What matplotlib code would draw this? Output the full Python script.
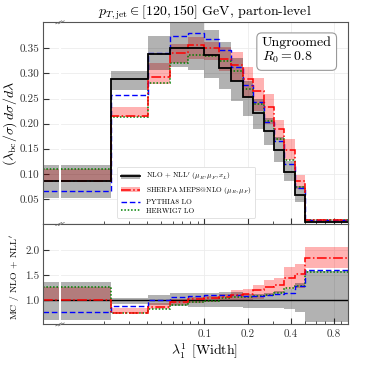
import numpy as np
import matplotlib
matplotlib.use("Agg")
import matplotlib.pyplot as plt
from matplotlib.patches import Patch
from matplotlib.lines import Line2D
from matplotlib.ticker import FixedLocator, NullFormatter, FixedFormatter

plt.rcParams['font.family'] = ['cmr10', 'DejaVu Serif']
plt.rcParams['mathtext.fontset'] = 'cm'
plt.rcParams['axes.unicode_minus'] = False
plt.rcParams['axes.formatter.use_mathtext'] = True

# ---------------- data ----------------
edges = [0.01, 0.0223, 0.0402, 0.0577, 0.0773, 0.1, 0.1266, 0.1536, 0.1848,
         0.22, 0.26, 0.3064, 0.3617, 0.4275, 0.5, 1.0]

nlo    = [0.0866, 0.2886, 0.338, 0.351, 0.350, 0.336, 0.311, 0.285, 0.254, 0.222, 0.185, 0.147, 0.103, 0.057, 0.0045]
nlo_lo = [0.052, 0.268, 0.307, 0.313, 0.307, 0.290, 0.270, 0.245, 0.216, 0.190, 0.157, 0.124, 0.085, 0.044, 0.0025]
nlo_hi = [0.118, 0.305, 0.375, 0.401, 0.401, 0.386, 0.363, 0.330, 0.285, 0.250, 0.211, 0.173, 0.126, 0.0765, 0.0072]

sherpa    = [0.0866, 0.215, 0.293, 0.340, 0.357, 0.350, 0.329, 0.316, 0.288, 0.265, 0.233, 0.190, 0.148, 0.0866, 0.0083]
sherpa_lo = [0.0866, 0.213, 0.280, 0.320, 0.328, 0.326, 0.305, 0.285, 0.254, 0.226, 0.200, 0.167, 0.127, 0.070, 0.0074]
sherpa_hi = [0.110, 0.233, 0.321, 0.358, 0.373, 0.362, 0.352, 0.343, 0.312, 0.290, 0.260, 0.207, 0.170, 0.097, 0.0093]

pythia = [0.0666, 0.2566, 0.340, 0.375, 0.381, 0.369, 0.3466, 0.313, 0.278, 0.243, 0.203, 0.1646, 0.1186, 0.0713, 0.0073]
herwig = [0.110, 0.214, 0.282, 0.321, 0.336, 0.335, 0.325, 0.305, 0.270, 0.240, 0.205, 0.170, 0.128, 0.0733, 0.0071]

# ratio panel (MC / NLO+NLL')
r_nlo_lo = [0.60, 0.93, 0.91, 0.89, 0.877, 0.86, 0.87, 0.86, 0.85, 0.855, 0.85, 0.84, 0.82, 0.77, 0.56]
r_nlo_hi = [1.37, 1.05, 1.11, 1.14, 1.143, 1.15, 1.17, 1.16, 1.12, 1.13, 1.14, 1.18, 1.22, 1.35, 1.59]
r_sherpa    = [1.0, 0.746, 0.868, 0.97, 1.02, 1.04, 1.06, 1.10, 1.13, 1.20, 1.26, 1.30, 1.44, 1.53, 1.84]
r_sherpa_lo = [1.0, 0.74, 0.83, 0.91, 0.94, 0.97, 0.98, 1.00, 1.00, 1.02, 1.08, 1.14, 1.22, 1.24, 1.64]
r_sherpa_hi = [1.27, 0.85, 0.95, 1.02, 1.07, 1.08, 1.13, 1.20, 1.23, 1.30, 1.40, 1.45, 1.66, 1.73, 2.07]
r_pythia = [0.77, 0.89, 1.005, 1.068, 1.09, 1.10, 1.115, 1.10, 1.095, 1.095, 1.10, 1.12, 1.15, 1.28, 1.61]
r_herwig = [1.27, 0.745, 0.835, 0.915, 0.96, 0.997, 1.045, 1.07, 1.063, 1.08, 1.11, 1.156, 1.24, 1.29, 1.56]

xticks = [0.1, 0.2, 0.4, 0.8]
xtick_labels = ["0.1", "0.2", "0.4", "0.8"]
xminor = [0.02, 0.03, 0.04, 0.05, 0.06, 0.07, 0.08, 0.09, 0.3, 0.5, 0.6, 0.7, 0.9]
yticks_top = [0.05, 0.10, 0.15, 0.20, 0.25, 0.30, 0.35]
yticks_bot = [1.0, 1.5, 2.0]

# ---------------- styles ----------------
BAND_NLO = dict(color='black', alpha=0.30, lw=0)
BAND_SH = dict(color='red', alpha=0.30, lw=0)
LS = dict(
    nlo=dict(color='black', lw=1.3, ls='-'),
    sh=dict(color='red', lw=1.1, ls='-.'),
    py=dict(color='blue', lw=1.0, ls=(0, (4, 2))),
    hw=dict(color='green', lw=1.1, ls=(0, (1, 1.2))),
)

W, H = 366, 366
fig = plt.figure(figsize=(W / 100, H / 100), dpi=100)

def fx(p):
    return p / W

def fy(p):
    return 1 - p / H

xl0, xl1 = 43.3, 59.0
xm0, xm1 = 61.0, 347.7
top_y0, top_y1 = 22.3, 224.0
bot_y0, bot_y1 = 224.0, 324.4

axL_t = fig.add_axes([fx(xl0), fy(top_y1), fx(xl1 - xl0), (top_y1 - top_y0) / H])
axM_t = fig.add_axes([fx(xm0), fy(top_y1), fx(xm1 - xm0), (top_y1 - top_y0) / H])
axL_b = fig.add_axes([fx(xl0), fy(bot_y1), fx(xl1 - xl0), (bot_y1 - bot_y0) / H])
axM_b = fig.add_axes([fx(xm0), fy(bot_y1), fx(xm1 - xm0), (bot_y1 - bot_y0) / H])

def draw(axM, axL, c, clo, chi, s, slo, shi, p, h, ratio):
    first = [0.0, 1.0]
    for ax, e, sl in ((axM, edges, slice(None)), (axL, first, slice(0, 1))):
        ax.stairs(shi[sl], e, baseline=slo[sl], fill=True, zorder=1, **BAND_SH)
        ax.stairs(chi[sl], e, baseline=clo[sl], fill=True, zorder=1.1, **BAND_NLO)
        if ratio:
            ax.axhline(1.0, color='black', lw=1.0, zorder=2)
        else:
            ax.stairs(c[sl], e, baseline=None, zorder=2.3, **LS['nlo'])
        ax.stairs(h[sl], e, baseline=None, zorder=2.0, **LS['hw'])
        ax.stairs(p[sl], e, baseline=None, zorder=2.1, **LS['py'])
        ax.stairs(s[sl], e, baseline=None, zorder=2.2, **LS['sh'])

draw(axM_t, axL_t, nlo, nlo_lo, nlo_hi, sherpa, sherpa_lo, sherpa_hi, pythia, herwig, False)
draw(axM_b, axL_b, None, r_nlo_lo, r_nlo_hi, r_sherpa, r_sherpa_lo, r_sherpa_hi, r_pythia, r_herwig, True)

spine_c = '#555555'
for axM, axL, ylim, yt, fmt in ((axM_t, axL_t, (0, 0.402), yticks_top, "{:.2f}"),
                                (axM_b, axL_b, (0.52, 2.525), yticks_bot, "{:.1f}")):
    axM.set_xscale('log')
    axM.set_xlim(edges[0], edges[-1])
    axL.set_xlim(0, 1)
    for ax in (axM, axL):
        ax.set_ylim(*ylim)
        for sp in ax.spines.values():
            sp.set_color(spine_c)
            sp.set_linewidth(0.8)
        ax.set_yticks(yt)
        ax.grid(True, axis='y', color='#ececec', lw=0.6, zorder=0)
        ax.set_axisbelow(True)
    axL.spines['right'].set_visible(False)
    axM.spines['left'].set_visible(False)
    axL.set_xticks([])
    axL.set_yticklabels([fmt.format(v) for v in yt])
    axL.tick_params(axis='y', direction='in', length=4, width=0.8, labelsize=8, pad=3, colors='#333333')
    axM.tick_params(axis='y', left=False, labelleft=False)
    axM.xaxis.set_major_locator(FixedLocator(xticks))
    axM.xaxis.set_minor_locator(FixedLocator(xminor))
    axM.xaxis.set_minor_formatter(NullFormatter())
    axM.grid(True, axis='x', which='major', color='#ececec', lw=0.6, zorder=0)
    axM.tick_params(axis='x', which='major', direction='in', length=4, width=0.8, labelsize=8, colors='#333333')
    axM.tick_params(axis='x', which='minor', direction='in', length=2, width=0.6, colors='#333333')

axM_t.xaxis.set_major_formatter(NullFormatter())
axM_b.xaxis.set_major_formatter(FixedFormatter(xtick_labels))

axM_t.set_title(r"$p_{T,\mathrm{jet}} \in [120, 150]$ GeV, parton-level", fontsize=10, pad=3)
axM_b.set_xlabel(r"$\lambda_1^1$ [Width]", fontsize=10, labelpad=2)

fig.text(fx(10), fy((top_y0 + top_y1) / 2), r"$(\lambda_{\mathrm{bc}}/\sigma)\, d\sigma/d\lambda$",
         rotation=90, ha='center', va='center', fontsize=10)
fig.text(fx(15), fy((bot_y0 + bot_y1) / 2 + 3), r"MC / NLO + NLL$'$",
         rotation=90, ha='center', va='center', fontsize=7)

axM_t.text(0.70, 0.93, "Ungroomed\n$R_0 = 0.8$", transform=axM_t.transAxes, ha='left', va='top',
           fontsize=10, linespacing=1.1,
           bbox=dict(boxstyle='round,pad=0.35', fc='white', ec='#999999', lw=0.8))

handles = [
    (Patch(facecolor='black', alpha=0.3, lw=0), Line2D([], [], **LS['nlo'])),
    (Patch(facecolor='red', alpha=0.3, lw=0), Line2D([], [], **LS['sh'])),
    Line2D([], [], **LS['py']),
    Line2D([], [], **LS['hw']),
]
labels = [r"NLO + NLL$'$ $(\mu_R, \mu_F, x_L)$", r"SHERPA MEPS@NLO $(\mu_R, \mu_F)$",
          "PYTHIA8 LO", "HERWIG7 LO"]
leg = axM_t.legend(handles, labels, loc='lower left', bbox_to_anchor=(0.195, 0.03), borderaxespad=0,
                   fontsize=5.3, handlelength=2.6, labelspacing=0.35, frameon=True, fancybox=True,
                   edgecolor='#dddddd', framealpha=1, borderpad=0.55, handletextpad=0.8)
leg.get_frame().set_linewidth(0.6)

# break markers
def brk(xc, yc):
    for dx in (-1.3, 1.3):
        fig.add_artist(Line2D([fx(xc + dx - 3), fx(xc + dx + 3)], [fy(yc + 1.5), fy(yc - 1.5)],
                              color='#666666', lw=0.5, transform=fig.transFigure, clip_on=False))

for yc in (top_y0, top_y1, bot_y1):
    brk(60.0, yc)

fig.savefig("out.png", dpi=100)
